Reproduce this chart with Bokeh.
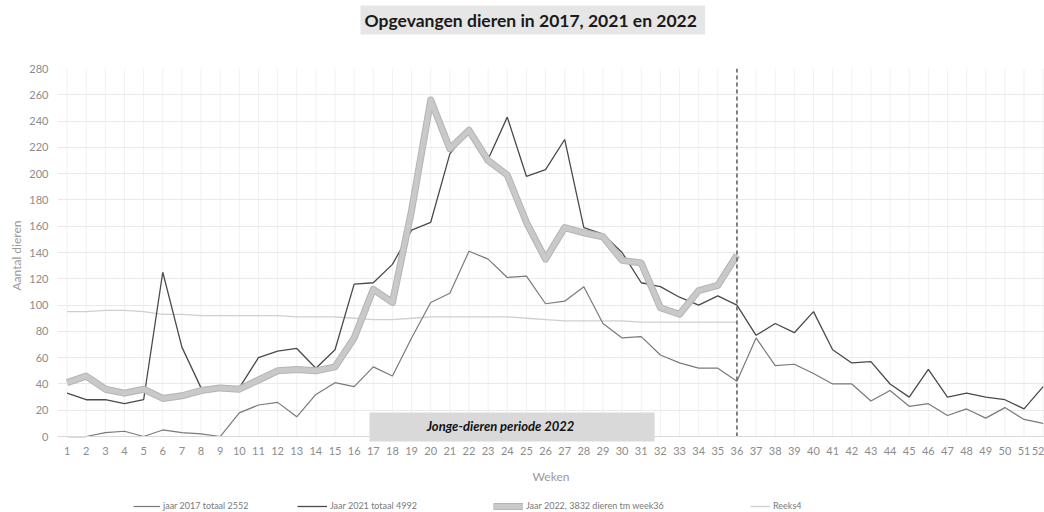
from bokeh.plotting import figure
from bokeh.models import (Range1d, FixedTicker, BoxAnnotation, Label, Legend, LegendItem, Title)
from bokeh.embed import file_html
from bokeh.resources import INLINE

# ---------------- data ----------------
weeks = list(range(1, 53))
weeks_2022 = list(range(1, 37))

y2017 = [0, 0, 3, 4, 0, 5, 3, 2, 0, 18, 24, 26, 15, 32, 41, 38, 53, 46, 75, 102,
         109, 141, 135, 121, 122, 101, 103, 114, 86, 75, 76, 62, 56, 52, 52, 42,
         75, 54, 55, 48, 40, 40, 27, 35, 23, 25, 16, 21, 14, 22, 13, 10]
y2021 = [33, 28, 28, 25, 28, 125, 68, 37, 38, 37, 60, 65, 67, 52, 66, 116, 117, 131, 157, 163,
         215, 233, 211, 243, 198, 203, 226, 159, 154, 140, 117, 114, 106, 100, 107, 100,
         77, 86, 79, 95, 66, 56, 57, 40, 30, 51, 30, 33, 30, 28, 21, 38]
y2022 = [41, 46, 36, 33, 36, 29, 31, 35, 37, 36, 43, 50, 51, 50, 53, 75, 112, 102, 172, 256,
         219, 233, 210, 199, 163, 135, 159, 155, 152, 134, 132, 98, 93, 111, 115, 138]
reeks4 = [95, 95, 96, 96, 95, 93, 93, 92, 92, 92, 92, 92, 91, 91, 91, 90, 89, 89, 90, 91,
          91, 91, 91, 91, 90, 89, 88, 88, 88, 88, 87, 87, 87, 87, 87, 87]

labels = ["jaar 2017 totaal 2552", "Jaar 2021 totaal 4992",
          "Jaar 2022, 3832 dieren tm week36", "Reeks4"]
y_ticks = list(range(0, 281, 20))
y_min, y_max = 0, 280
current_week = 36
period_start, period_end, period_bottom, period_top = 16.8, 31.7, -3.8, 18.3
period_text = "Jonge-dieren periode 2022"
title_text = "Opgevangen dieren in 2017,  2021 en 2022"

FONT = "Lato"
TICK_COLOR = "#8c8c8c"

# frame extends below the x axis so the legend can sit inside it
p = figure(width=1044, height=512, output_backend="svg", toolbar_location=None,
           x_range=Range1d(0.5, 52.07), y_range=Range1d(-57.8, 280),
           min_border_left=57, min_border_right=0, min_border_top=68, min_border_bottom=0)
p.outline_line_color = None
p.background_fill_color = "white"
p.border_fill_color = "white"
p.title.text = ""

# spacer between frame and title, then the title itself (outer panel)
p.add_layout(Title(text=" ", text_font_size="2px", standoff=30), "above")
p.add_layout(Title(text=title_text, align="left", offset=303, standoff=0, vertical_align="bottom",
                   text_font=FONT, text_font_size="17.5px", text_font_style="bold",
                   text_color="#1a1a1a", background_fill_color="#e6e6e6", padding=4), "above")

# y axis title as a left-side title (centered on the 0..280 part)
p.add_layout(Title(text="Aantal dieren", align="left", offset=222, standoff=6,
                   text_font=FONT, text_font_size="12px", text_font_style="normal",
                   text_color="#9a9a9a"), "left")

# axes
p.xaxis.ticker = FixedTicker(ticks=weeks)
p.yaxis.ticker = FixedTicker(ticks=y_ticks)
for ax in (p.xaxis[0], p.yaxis[0]):
    ax.major_tick_line_color = None
    ax.minor_tick_line_color = None
    ax.major_tick_out = 0
    ax.major_label_text_color = TICK_COLOR
    ax.major_label_text_font = FONT
    ax.major_label_text_font_size = "11px"
    ax.axis_label_text_color = "#9a9a9a"
    ax.axis_label_text_font = FONT
    ax.axis_label_text_font_size = "12px"
    ax.axis_label_text_font_style = "normal"
p.xaxis.fixed_location = 0
p.xaxis.axis_line_color = "#d9d9d9"
p.yaxis.axis_line_color = None
p.xaxis.major_label_standoff = 10
p.yaxis.major_label_standoff = 9
p.xaxis.axis_label = "Weken"
p.xaxis.axis_label_standoff = 11

# grid: horizontal through ygrid, vertical as segments limited to 0..280
p.xgrid.visible = False
p.ygrid.ticker = FixedTicker(ticks=y_ticks)
p.ygrid.grid_line_color = "#e9e9e9"
p.segment(x0=weeks, y0=[y_min] * len(weeks), x1=weeks, y1=[y_max] * len(weeks),
          line_color="#f1f1f1", line_width=1, level="underlay")

# period box
p.add_layout(BoxAnnotation(left=period_start, right=period_end, bottom=period_bottom, top=period_top,
                           fill_color="#d9d9d9", fill_alpha=1, line_color=None, level="underlay"))
p.add_layout(Label(x=(period_start + period_end) / 2 - 0.6, y=(period_top + period_bottom) / 2 + 1,
                   text=period_text, text_font=FONT, text_font_size="13px",
                   text_font_style="bold italic", text_color="#111111",
                   text_align="center", text_baseline="middle"))

# series
r4 = p.line(weeks_2022, reeks4, line_color="#cfcfcf", line_width=1.3)
r17 = p.line(weeks, y2017, line_color="#7a7a7a", line_width=1.2)
r21 = p.line(weeks, y2021, line_color="#4a4a4a", line_width=1.3)
r22b = p.line(weeks_2022, y2022, line_color="#b4b4b4", line_width=7, line_join="round")
r22 = p.line(weeks_2022, y2022, line_color="#c9c9c9", line_width=5, line_join="round")

# current week marker (dashed, from 0 to top)
p.segment(x0=[current_week], y0=[y_min], x1=[current_week], y1=[y_max],
          line_color="#666666", line_width=1.6, line_dash="4 3")

# legends, positioned like the original (inside the extended frame)
leg_specs = [(labels[0], [r17], 76, 27), (labels[1], [r21], 240, 30),
             (labels[2], [r22b, r22], 436, 30), (labels[3], [r4], 693, 20)]
for lab, rs, vx, gw in leg_specs:
    leg = Legend(items=[LegendItem(label=lab, renderers=rs)], location=(vx, 1),
                 orientation="horizontal", glyph_width=gw, glyph_height=10,
                 label_text_font=FONT, label_text_font_size="9px", label_text_color="#7a7a7a",
                 label_standoff=3, label_height=10, padding=0, margin=0,
                 border_line_color=None, background_fill_alpha=0)
    p.add_layout(leg)

open("out.html", "w").write(file_html(p, INLINE))
